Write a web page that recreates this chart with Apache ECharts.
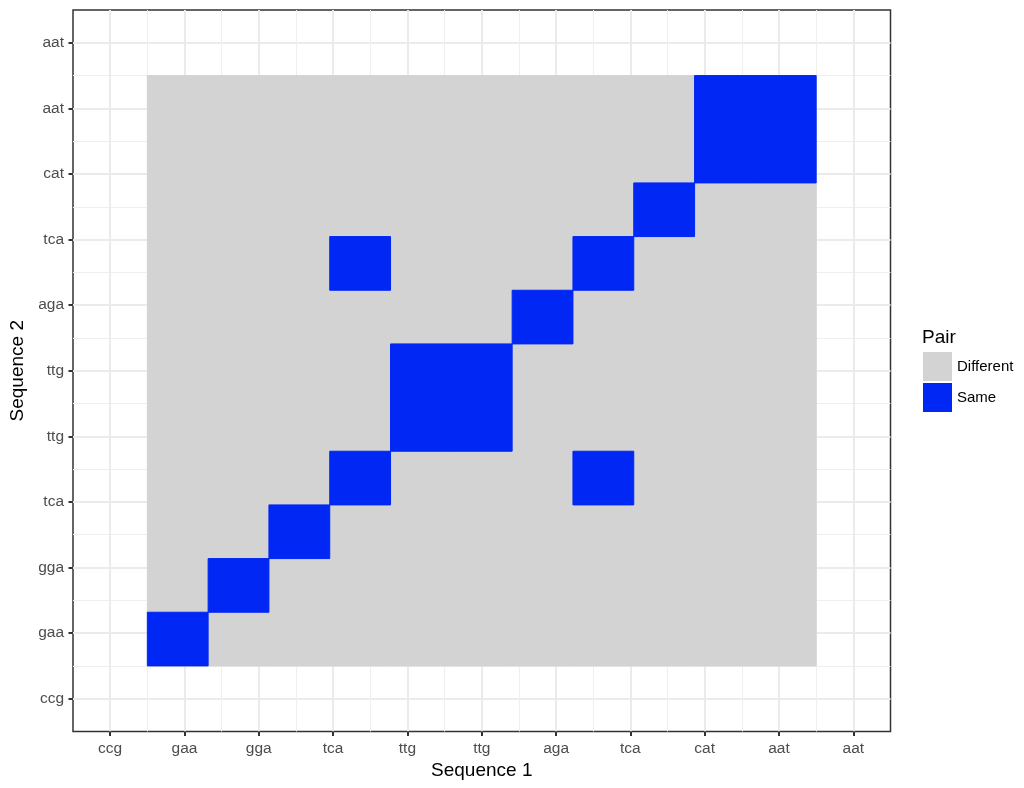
<!DOCTYPE html>
<html>
<head>
<meta charset="utf-8">
<script src="https://cdn.jsdelivr.net/npm/echarts@6/dist/echarts.min.js"></script>
<style>
html,body{margin:0;padding:0;background:#fff;}
#chart{width:1024px;height:788px;}
</style>
</head>
<body>
<div id="chart"></div>
<script>
// Tick labels
const seq1 = ['ccg','gaa','gga','tca','ttg','ttg','aga','tca','cat','aat','aat'];
const seq2 = ['ccg','gaa','gga','tca','ttg','ttg','aga','tca','cat','aat','aat'];
// Pair matrix: rows from bottom (tile row 0) to top, 1 = Same, 0 = Different
const pairRows = [
  [1,0,0,0,0,0,0,0,0,0,0],
  [0,1,0,0,0,0,0,0,0,0,0],
  [0,0,1,0,0,0,0,0,0,0,0],
  [0,0,0,1,0,0,0,1,0,0,0],
  [0,0,0,0,1,1,0,0,0,0,0],
  [0,0,0,0,1,1,0,0,0,0,0],
  [0,0,0,0,0,0,1,0,0,0,0],
  [0,0,0,1,0,0,0,1,0,0,0],
  [0,0,0,0,0,0,0,0,1,0,0],
  [0,0,0,0,0,0,0,0,0,1,1],
  [0,0,0,0,0,0,0,0,0,1,1]
];
const pairNames = ['Different','Same'];
const pairColors = ['#D3D3D3','#0027F4'];

// Axis extents (main visible axes) and where the tile block sits on them
const AX_MIN = -0.5, AX_MAX = 10.5;
const TILE_FROM = 0.5, TILE_TO = 9.5;
const NT = pairRows.length;
const scaleT = NT / (TILE_TO - TILE_FROM);
const HX_MIN = (AX_MIN - TILE_FROM) * scaleT;
const HX_MAX = (AX_MAX - TILE_FROM) * scaleT;

const dataDiff = [], dataSame = [];
pairRows.forEach((row, j) => row.forEach((v, i) => {
  (v === 1 ? dataSame : dataDiff).push([i, j]);
}));

const FONT = 'Liberation Sans, Arial, sans-serif';
const tickVals = seq1.map((_, i) => i);

function mainAxis(labels, isX) {
  return {
    type: 'value', min: AX_MIN, max: AX_MAX, minInterval: 1, maxInterval: 1, splitNumber: 11,
    gridIndex: 0,
    position: isX ? 'bottom' : 'left',
    name: isX ? 'Sequence 1' : 'Sequence 2',
    nameLocation: 'middle',
    nameGap: isX ? 29 : 46,
    nameTextStyle: { fontFamily: FONT, fontSize: 19, color: '#000' },
    axisLine: { show: false, onZero: false },
    axisTick: { show: true, length: 4.5, customValues: tickVals, lineStyle: { color: '#333', width: 2 } },
    axisLabel: {
      customValues: tickVals,
      margin: 9, fontFamily: FONT, fontSize: 15.5, color: '#4D4D4D',
      formatter: v => (Math.abs(v - Math.round(v)) < 1e-6 && labels[Math.round(v)] !== undefined) ? labels[Math.round(v)] : ''
    },
    splitLine: { show: true, lineStyle: { color: '#EBEBEB', width: 2 } },
    minorTick: { show: false, splitNumber: 2 },
    minorSplitLine: { show: true, lineStyle: { color: '#EFEFEF', width: 1 } },
    z: 1
  };
}
function helperAxis() {
  return { type: 'value', min: HX_MIN, max: HX_MAX, show: false, gridIndex: 0,
           axisLine: { onZero: false },
           splitLine: { show: false }, axisLabel: { show: false }, axisTick: { show: false } };
}

function renderTile(params, api) {
  const i = api.value(0), j = api.value(1);
  const p0 = api.coord([i, j]);
  const p1 = api.coord([i + 1, j + 1]);
  const c = api.visual('color');
  return {
    type: 'rect',
    shape: { x: p0[0], y: p1[1], width: p1[0] - p0[0], height: p0[1] - p1[1] },
    style: { fill: c, stroke: c, lineWidth: 1 }
  };
}

const chart = echarts.init(document.getElementById('chart'), null, { renderer: 'canvas' });
chart.setOption({
  animation: false,
  backgroundColor: '#fff',
  title: {
    text: 'Pair', left: 922, top: 328, padding: 0,
    textStyle: { fontFamily: FONT, fontSize: 19, fontWeight: 'normal', color: '#000' }
  },
  legend: {
    orient: 'vertical', left: 923, top: 352, padding: 0,
    itemWidth: 29, itemHeight: 29, itemGap: 2, icon: 'rect',
    data: pairNames,
    textStyle: { fontFamily: FONT, fontSize: 15, color: '#000' },
    selectedMode: false
  },
  grid: {
    left: 71.5, right: 133.5, top: 10, bottom: 56.5,
    show: true, borderColor: '#333', borderWidth: 1.5, backgroundColor: 'transparent'
  },
  xAxis: [mainAxis(seq1, true), helperAxis()],
  yAxis: [mainAxis(seq2, false), helperAxis()],
  series: [
    { name: pairNames[0], type: 'custom', xAxisIndex: 1, yAxisIndex: 1, data: dataDiff,
      itemStyle: { color: pairColors[0] }, renderItem: renderTile, z: 2 },
    { name: pairNames[1], type: 'custom', xAxisIndex: 1, yAxisIndex: 1, data: dataSame,
      itemStyle: { color: pairColors[1] }, renderItem: renderTile, z: 3 }
  ]
});
</script>
</body>
</html>
